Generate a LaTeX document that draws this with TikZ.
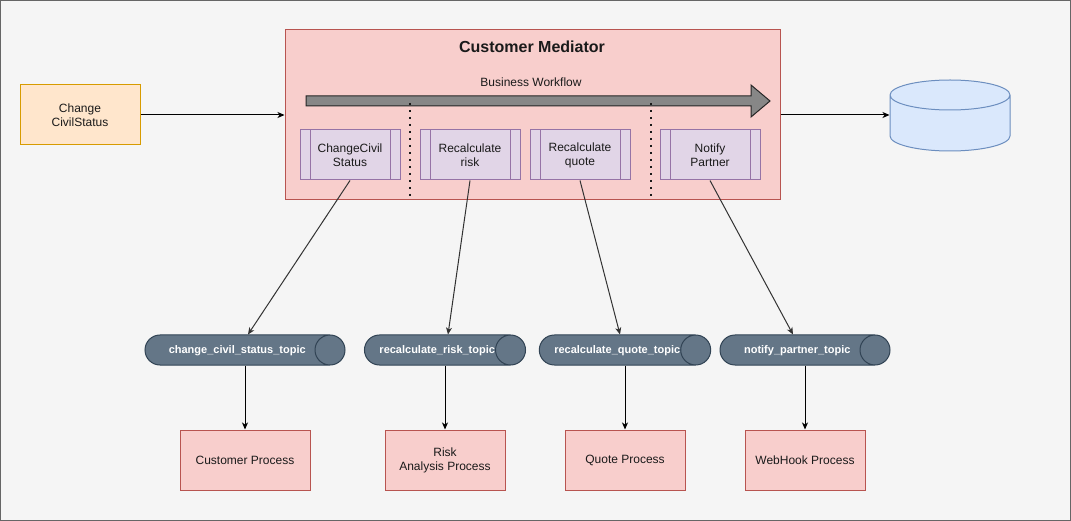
\documentclass[tikz,border=0pt]{standalone}
\usepackage{fontspec}
\setmainfont{Liberation Sans}
\usetikzlibrary{arrows.meta, shapes.geometric, calc}

\definecolor{bgfill}{HTML}{F5F5F5}
\definecolor{bgline}{HTML}{666666}
\definecolor{orgfill}{HTML}{FFE6CC}
\definecolor{orgline}{HTML}{D79B00}
\definecolor{redfill}{HTML}{F8CECC}
\definecolor{redline}{HTML}{B85450}
\definecolor{purfill}{HTML}{E1D5E7}
\definecolor{purline}{HTML}{9673A6}
\definecolor{bluefill}{HTML}{DAE8FC}
\definecolor{blueline}{HTML}{6C8EBF}
\definecolor{topfill}{HTML}{647687}
\definecolor{topline}{HTML}{314354}
\definecolor{flowfill}{HTML}{878787}
\definecolor{txt}{HTML}{1A1A1A}

\begin{document}
\begin{tikzpicture}[x=1pt, y=-1pt, line width=1pt, text=txt,
  font=\fontsize{12}{14}\selectfont,
  evt/.style={rectangle, draw=orgline, fill=orgfill, minimum width=120pt, minimum height=60pt, align=center},
  proc/.style={rectangle, draw=redline, fill=redfill, minimum width=120pt, minimum height=60pt, align=center},
  subproc/.style={rectangle, draw=purline, fill=purfill, minimum width=100pt, minimum height=50pt, align=center,
    path picture={\draw[purline, line width=1pt]
      ([xshift=10pt]path picture bounding box.north west) -- ([xshift=10pt]path picture bounding box.south west)
      ([xshift=-10pt]path picture bounding box.north east) -- ([xshift=-10pt]path picture bounding box.south east);}},
  topic/.style={cylinder, shape border rotate=0, aspect=3, inner sep=0pt, text height=8pt, text depth=2pt,
    draw=topline, fill=topfill, minimum width=30pt, anchor=shape center,
    text=white, font=\fontsize{11}{13}\selectfont\bfseries},
  store/.style={cylinder, shape border rotate=90, aspect=3, inner sep=5pt, draw=blueline, fill=bluefill,
    minimum width=120pt, minimum height=71pt, anchor=shape center},
  arr/.style={-{Stealth[length=7pt, width=6pt, inset=2pt]}, black},
  slant/.style={-{Stealth[length=7pt, width=6pt, inset=2pt]}, draw=black!80},
  sep/.style={line width=1.6pt, dash pattern=on 1.6pt off 5.4pt, txt}]

\useasboundingbox (0,0) rectangle (1071,521);
\fill[bgfill] (0,0) rectangle (1071,521);
\draw[bgline] (0.5,0.5) rectangle (1070.5,520.5);

% mediator and its workflow
\node[proc, minimum width=495pt, minimum height=170pt] (med) at (532.5,115) {};
\node[font=\fontsize{16}{18}\selectfont\bfseries] (medtitle) at (532,47) {Customer Mediator};
\node (flowlbl) at (531,82) {Business Workflow};
\draw[black!85, fill=flowfill] (306,96) -- (751,96) -- (751,85) -- (770,101) -- (751,117) -- (751,106) -- (306,106) -- cycle;
\draw[sep] (410,103) -- (410,200);
\draw[sep] (651,103) -- (651,200);

\node[subproc] (s1) at (350,155) {ChangeCivil\\Status};
\node[subproc] (s2) at (470,155) {Recalculate\\risk};
\node[subproc] (s3) at (580,155) {Recalculate\\quote};
\node[subproc] (s4) at (710,155) {Notify\\Partner};

\node[evt] (chg) at (80,115) {Change\\CivilStatus};
\node[store] (db) at (950,115.5) {};

% topics
\node[topic, minimum height=200pt] (t1) at (245,350) {change\_civil\_status\_topic};
\node[topic, minimum height=160pt] (t2) at (445,350) {recalculate\_risk\_topic};
\node[topic, minimum height=160pt] (t3) at (625,350) {recalculate\_quote\_topic};
\node[topic, minimum height=170pt] (t4) at (805,350) {notify\_partner\_topic};

% consumers
\node[proc, minimum width=130pt] (p1) at (245,460) {Customer Process};
\node[proc] (p2) at (445,460) {Risk\\Analysis Process};
\node[proc] (p3) at (625,460) {Quote Process};
\node[proc] (p4) at (805,460) {WebHook Process};

\draw[arr] (chg) -- (med);
\draw[arr] (med.east) -- (db.west |- med.east);
\draw[slant] (s1.south) -- ($(t1.north -| t1.shape center)+(3,0)$);
\draw[slant] (s2.south) -- ($(t2.north -| t2.shape center)+(3,0)$);
\draw[slant] (s3.south) -- ($(t3.north -| t3.shape center)+(-5,0)$);
\draw[slant] (s4.south) -- ($(t4.north -| t4.shape center)+(-12,0)$);
\foreach \i in {1,...,4}
  \draw[arr] (p\i |- t\i.south) -- (p\i);
\end{tikzpicture}
\end{document}
